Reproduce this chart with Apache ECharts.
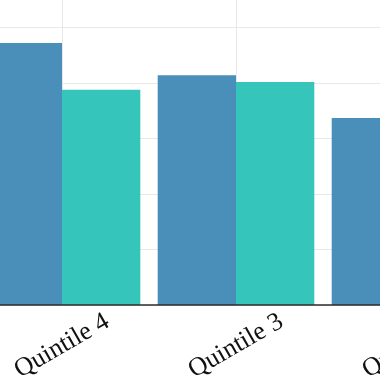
<!DOCTYPE html>
<html>
<head>
<meta charset="utf-8">
<script src="https://cdn.jsdelivr.net/npm/echarts@6/dist/echarts.min.js"></script>
<style>html,body{margin:0;padding:0;background:#fff;}#c{width:380px;height:380px;}</style>
</head>
<body>
<div id="c"></div>
<script>
var categories = ['Quintile 5', 'Quintile 4', 'Quintile 3', 'Quintile 2', 'Quintile 1'];
var seriesA = [null, 47.2, 41.4, 33.7, null];
var seriesB = [null, 38.8, 40.2, null, null];
var yTicks = [0, 10, 20, 30, 40, 50];

var chart = echarts.init(document.getElementById('c'), null, {renderer: 'canvas'});
chart.setOption({
  animation: false,
  backgroundColor: '#ffffff',
  grid: {left: -199, right: -291, top: -20, bottom: 75, containLabel: false, outerBoundsMode: 'none'},
  xAxis: [{
    type: 'category',
    data: categories,
    position: 'bottom',
    z: 5,
    axisLine: {lineStyle: {color: '#2b2b2b', width: 1.5}},
    axisTick: {alignWithLabel: true, length: 5, lineStyle: {color: '#555', width: 1.5}},
    splitLine: {show: false},
    axisLabel: {
      rotate: 30, align: 'center', verticalAlign: 'middle', margin: 41,
      fontFamily: 'Liberation Serif', fontSize: 26, color: '#111'
    }
  }, {
    type: 'category',
    data: categories,
    position: 'bottom',
    z: 0,
    axisLine: {show: false}, axisTick: {show: false, alignWithLabel: true}, axisLabel: {show: false},
    splitLine: {show: true, alignWithLabel: true, lineStyle: {color: '#e8e8e8', width: 1}}
  }],
  yAxis: {
    type: 'value', min: yTicks[0], max: 58.56, interval: yTicks[1] - yTicks[0],
    axisLine: {show: false}, axisTick: {show: false}, axisLabel: {show: false},
    splitLine: {lineStyle: {color: '#e8e8e8', width: 1}}
  },
  series: [
    {name: 'A', type: 'bar', xAxisIndex: 0, data: seriesA, barGap: '0%', barCategoryGap: '10%', itemStyle: {color: '#4A8FB9'}},
    {name: 'B', type: 'bar', xAxisIndex: 0, data: seriesB, barGap: '0%', barCategoryGap: '10%', itemStyle: {color: '#35C5BA'}}
  ]
});
</script>
</body>
</html>
